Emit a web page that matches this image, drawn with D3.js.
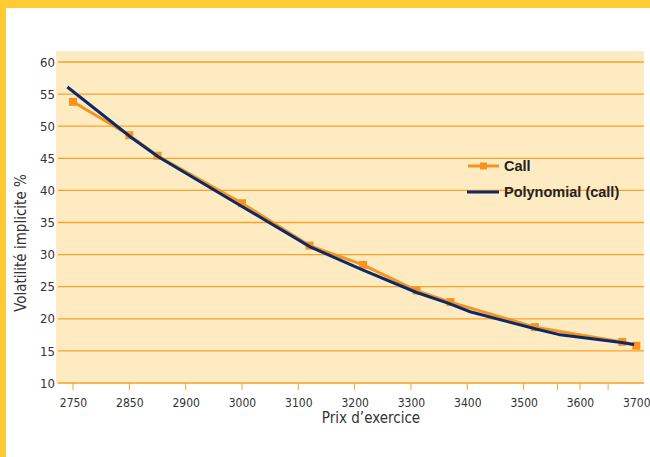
<!DOCTYPE html>
<html>
<head>
<meta charset="utf-8">
<script src="https://cdn.jsdelivr.net/npm/d3@7"></script>
<style>
  body { margin: 0; background: #fff; }
  svg { display: block; }
</style>
</head>
<body>
<script>
let strikeTicks = [2750, 2850, 2900, 3000, 3100, 3200, 3300, 3400, 3500, 3600, 3700];
let minorTicks = [3560, 3650];
let volTicks = [10, 15, 20, 25, 30, 35, 40, 45, 50, 55, 60];

let callStrike = [2750, 2850, 2875, 3000, 3120, 3215, 3310, 3370, 3520, 3675, 3700];
let callVol = [53.8, 48.6, 45.4, 38.0, 31.4, 28.4, 24.4, 22.6, 18.7, 16.4, 15.8];

let polyStrike = [2740, 2852, 2876, 3000, 3121, 3215, 3310, 3367, 3405, 3522, 3565, 3674, 3696];
let polyVol = [56.1, 48.2, 45.2, 37.5, 31.2, 27.6, 24.1, 22.4, 21.1, 18.4, 17.5, 16.3, 16.0];

let seriesNames = ["Call", "Polynomial (call)"];

let width = 650;
let height = 457;
let colors = { frame: '#FFCB35', plot: '#FEEBC2', grid: '#F8A22A', call: '#F7941D', poly: '#0B2A6B', text: '#333' };
let tickFont = '"Liberation Sans Narrow", "DejaVu Sans Condensed", Roboto, sans-serif';

let svg = d3.select("body")
    .append("svg")
    .attr("width", width)
    .attr("height", height);

// yellow frame, top and left bands
svg.append("rect").attr("x", 0).attr("y", 0).attr("width", width).attr("height", 8).attr("fill", colors.frame);
svg.append("rect").attr("x", 0).attr("y", 0).attr("width", 6).attr("height", height).attr("fill", colors.frame);

// strike axis: ticks evenly spaced like a category axis
let x0 = 73, step = 56.33;
let xScale = d3.scaleLinear()
    .domain(strikeTicks)
    .range(strikeTicks.map((d, i) => x0 + i * step));
let yScale = d3.scaleLinear()
    .domain([10, 60])
    .range([383, 62]);

let plotLeft = 56, plotRight = 644;
svg.append("rect")
    .attr("x", plotLeft)
    .attr("y", yScale(60) - 11)
    .attr("width", plotRight - plotLeft)
    .attr("height", yScale(10) - yScale(60) + 12)
    .attr("fill", colors.plot);

// gridlines
svg.append("g")
    .selectAll("line")
    .data(volTicks)
    .join("line")
    .attr("x1", plotLeft + 2)
    .attr("x2", plotRight)
    .attr("y1", d => yScale(d))
    .attr("y2", d => yScale(d))
    .attr("stroke", colors.grid)
    .attr("stroke-width", 1.3);

// y axis labels
let yAxis = d3.axisLeft(yScale).tickValues(volTicks).tickSize(0).tickPadding(1);
let gy = svg.append("g")
    .attr("transform", "translate(" + plotLeft + ",0)")
    .call(yAxis);
gy.select(".domain").remove();
gy.selectAll("text")
    .style("font-size", "13px")
    .style("font-family", tickFont)
    .attr("fill", colors.text);

// x axis labels
let xAxis = d3.axisBottom(xScale).tickValues(strikeTicks).tickSize(0).tickPadding(15).tickFormat(d3.format("d"));
let gx = svg.append("g")
    .attr("transform", "translate(0," + yScale(10) + ")")
    .call(xAxis);
gx.select(".domain").remove();
gx.selectAll("text")
    .style("font-size", "12px")
    .style("font-family", tickFont)
    .attr("fill", colors.text);

// x tick marks
svg.append("g")
    .selectAll("line")
    .data(strikeTicks.slice(0, -1).concat(minorTicks))
    .join("line")
    .attr("x1", d => xScale(d))
    .attr("x2", d => xScale(d))
    .attr("y1", yScale(10))
    .attr("y2", yScale(10) + 7)
    .attr("stroke", colors.grid)
    .attr("stroke-width", 1);

// call series
let callData = callStrike.map((s, i) => ({ s: s, v: callVol[i] }));
let polyData = polyStrike.map((s, i) => ({ s: s, v: polyVol[i] }));

let line = d3.line()
    .x(d => xScale(d.s))
    .y(d => yScale(d.v));

svg.append("path")
    .attr("d", line(callData))
    .attr("fill", "none")
    .attr("stroke", colors.call)
    .attr("stroke-width", 3);

svg.append("g")
    .selectAll("rect")
    .data(callData)
    .join("rect")
    .attr("x", d => xScale(d.s) - 4)
    .attr("y", d => yScale(d.v) - 4)
    .attr("width", 8)
    .attr("height", 8)
    .attr("fill", colors.call);

svg.append("path")
    .attr("d", line(polyData))
    .attr("fill", "none")
    .attr("stroke", colors.poly)
    .attr("stroke-width", 3);

// legend
let legend = svg.append("g").attr("transform", "translate(468,166)");
legend.append("line").attr("x1", 0).attr("x2", 31).attr("y1", 0).attr("y2", 0)
    .attr("stroke", colors.call).attr("stroke-width", 3);
legend.append("rect").attr("x", 12).attr("y", -3.5).attr("width", 7).attr("height", 7).attr("fill", colors.call);
legend.append("line").attr("x1", -1).attr("x2", 31).attr("y1", 26).attr("y2", 26)
    .attr("stroke", colors.poly).attr("stroke-width", 3);
legend.selectAll("text")
    .data(seriesNames)
    .join("text")
    .attr("x", 36)
    .attr("y", (d, i) => i * 26)
    .attr("dy", "0.36em")
    .text(d => d)
    .style("font-size", "14.5px")
    .style("font-weight", "bold")
    .style("font-family", '"Liberation Sans", Arial, sans-serif')
    .attr("fill", "#222");

// axis titles
svg.append("text")
    .attr("x", 371)
    .attr("y", 423)
    .attr("text-anchor", "middle")
    .text("Prix d\u2019exercice")
    .style("font-size", "15px")
    .style("font-family", tickFont)
    .attr("fill", colors.text);

svg.append("text")
    .attr("transform", "translate(26,243) rotate(-90)")
    .attr("text-anchor", "middle")
    .text("Volatilité implicite %")
    .style("font-size", "15px")
    .style("font-family", tickFont)
    .attr("fill", colors.text);
</script>
</body>
</html>
